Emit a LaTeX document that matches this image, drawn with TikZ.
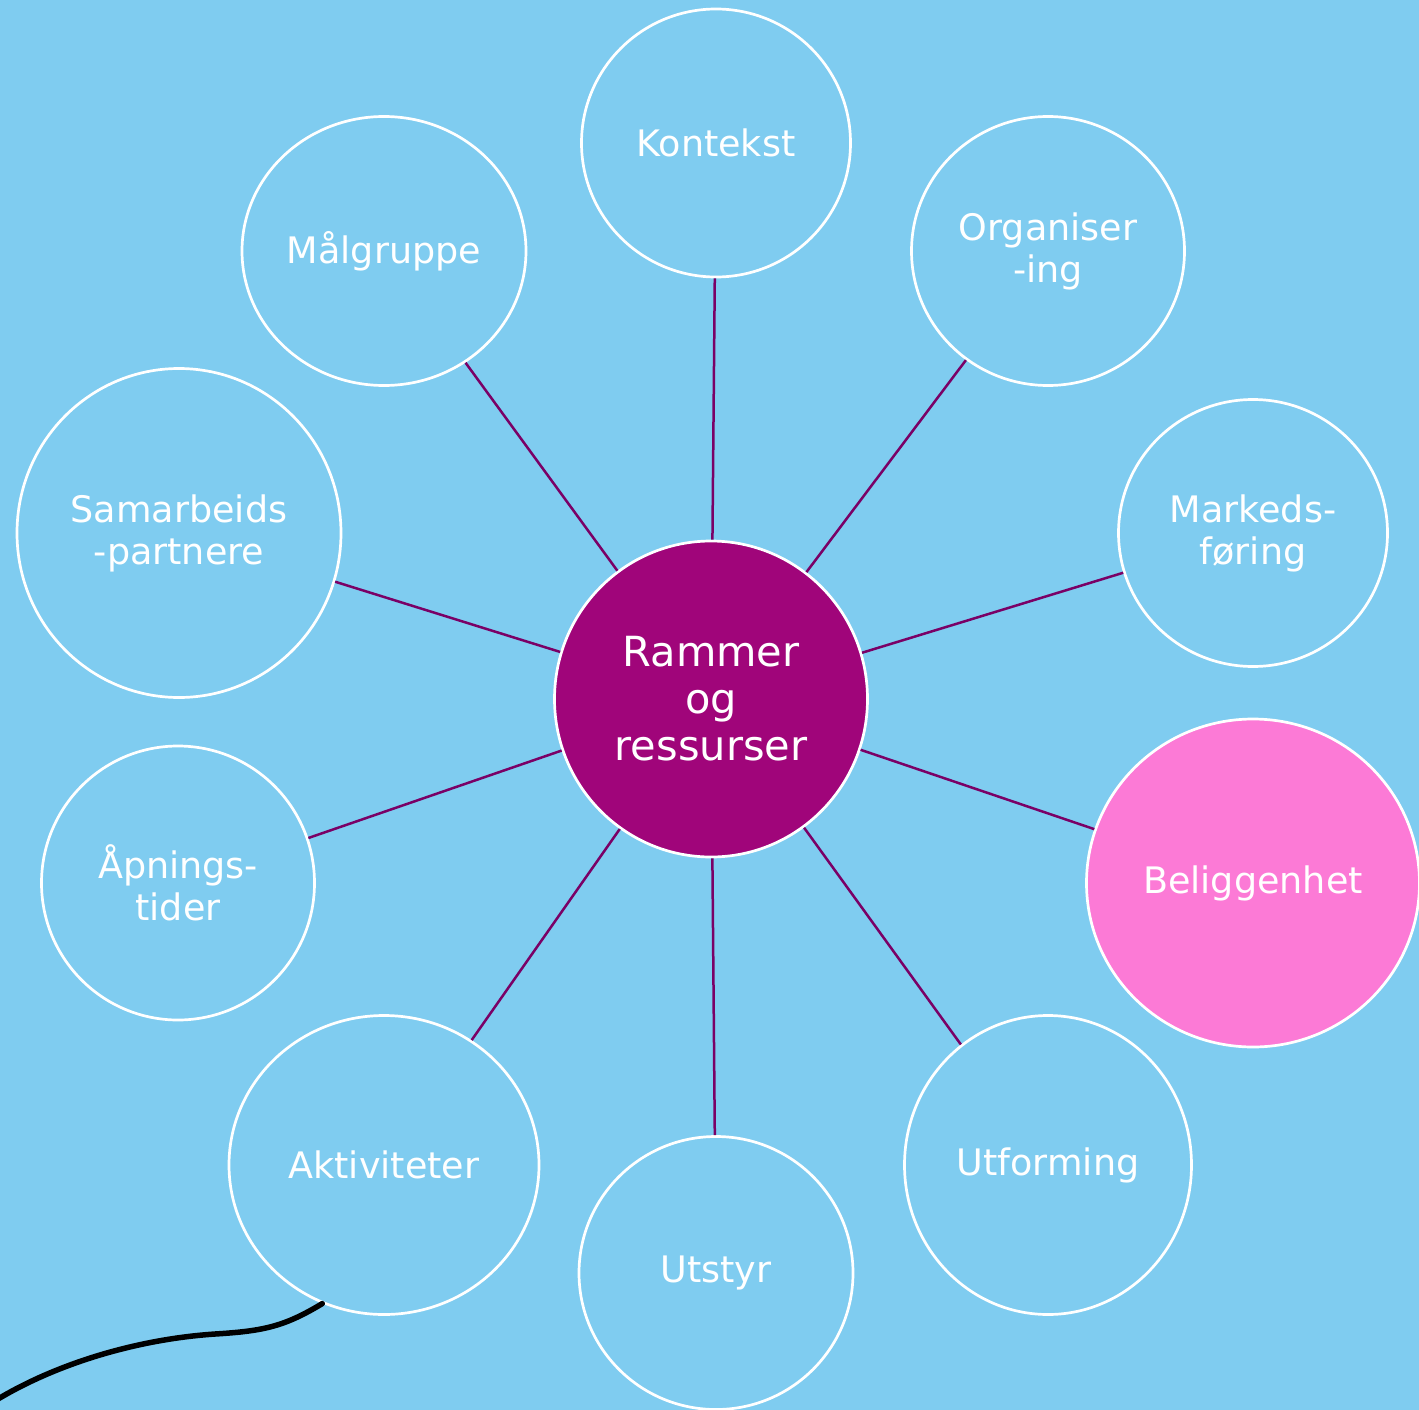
\documentclass[tikz,border=0pt]{standalone}
\usepackage{fontspec}
\setmainfont{DejaVu Sans}
\usetikzlibrary{shapes.geometric}
\definecolor{skyblue}{HTML}{7FCCF0}
\definecolor{hubpurple}{HTML}{A0057A}
\definecolor{spokeline}{HTML}{7A0066}
\definecolor{hotpink}{HTML}{FC7AD6}
\begin{document}
\begin{tikzpicture}[x=1pt,y=-1pt,
  bubble/.style={ellipse, draw=white, line width=2.7pt, fill=skyblue,
    inner sep=0pt, text=white, align=center,
    font=\fontsize{36.5}{42}\selectfont},
  hub/.style={bubble, fill=hubpurple, font=\fontsize{41.5}{47}\selectfont},
  spoke/.style={draw=spokeline, line width=2.5pt},
  tail/.style={draw=black, line width=5.5pt, line cap=round}]
  \useasboundingbox (0,0) rectangle (1419,1410);
  \fill[skyblue] (0,0) rectangle (1419,1410);

  % centre
  \node[hub, minimum width=313pt, minimum height=316pt] (hub) at (711,699) {Rammer\\og\\ressurser};

  % surrounding topics
  \node[bubble, minimum width=269pt, minimum height=268pt] (kontekst) at (716,143) {Kontekst};
  \node[bubble, minimum width=284pt, minimum height=269pt] (malgruppe) at (384,251) {Målgruppe};
  \node[bubble, minimum width=273pt, minimum height=269pt] (organisering) at (1048,251) {Organiser\\-ing};
  \node[bubble, minimum width=324pt, minimum height=329pt] (samarbeid) at (179,533) {Samarbeids\\-partnere};
  \node[bubble, minimum width=269pt, minimum height=267pt] (marked) at (1253,533) {Markeds-\\føring};
  \node[bubble, minimum width=273pt, minimum height=274pt] (apning) at (178,883) {Åpnings-\\tider};
  \node[bubble, fill=hotpink, minimum width=333pt, minimum height=328pt] (belig) at (1253,883) {Beliggenhet};
  \node[bubble, minimum width=310pt, minimum height=299pt] (aktiv) at (384,1165) {Aktiviteter};
  \node[bubble, minimum width=274pt, minimum height=273pt] (utstyr) at (716,1273) {Utstyr};
  \node[bubble, minimum width=287pt, minimum height=299pt] (utform) at (1048,1165) {Utforming};

  % spokes
  \foreach \t in {kontekst,malgruppe,organisering,samarbeid,marked,apning,belig,aktiv,utstyr,utform}
    \draw[spoke] (hub) -- (\t);

  % loose tail leaving the picture
  \coordinate (tailend) at (-2,1399);
  \draw[tail] (aktiv.246) .. controls (285,1326) and (265,1331) .. (215,1334)
    .. controls (140,1339) and (60,1362) .. (tailend);
\end{tikzpicture}
\end{document}
